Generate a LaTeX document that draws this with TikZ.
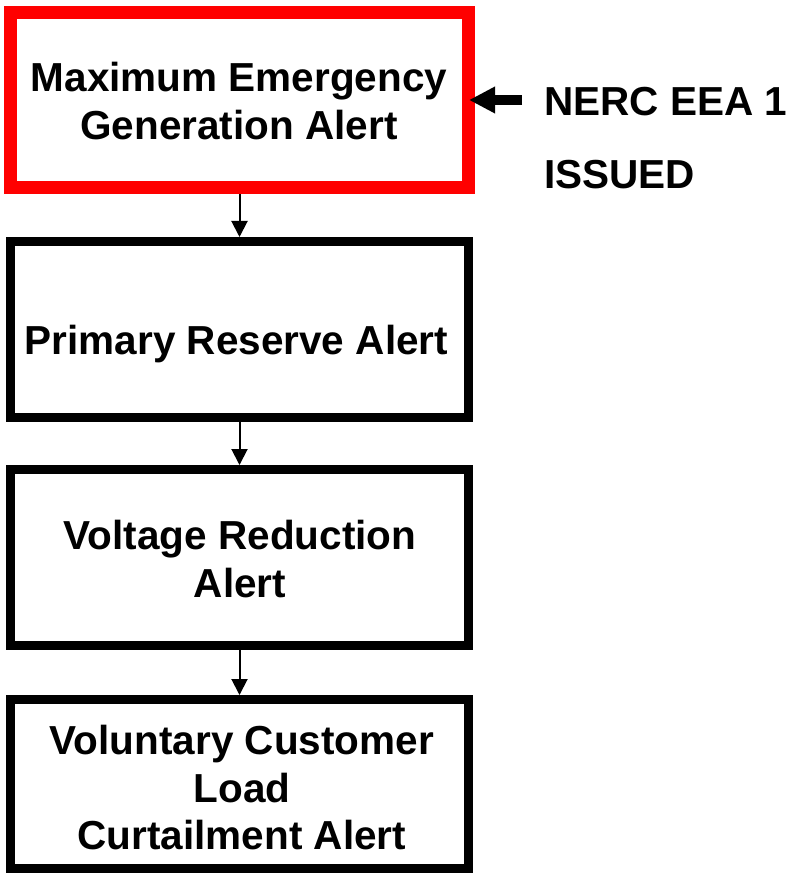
\documentclass[tikz,border=0pt]{standalone}
\usepackage{fontspec}
\setmainfont{Liberation Sans}
\usetikzlibrary{arrows.meta}

\tikzset{
  alertbox/.style={draw=black,line width=9pt,minimum width=458pt,minimum height=176pt,inner sep=0},
  alerttext/.style={inner sep=0,align=center,font=\fontsize{40.5}{47.5}\selectfont\bfseries},
  flow/.style={line width=2pt,-{Triangle[length=16pt,width=16pt]}}
}

\begin{document}
\begin{tikzpicture}[x=1pt,y=1pt]
    \useasboundingbox (0,0) rectangle (790,-874);
    \node[alertbox,draw=red,line width=13pt,minimum height=175pt] (maxgen) at (239.5,-100.5) {};
    \node[alertbox] (primary) at (239.5,-329.5) {};
    \node[alertbox] (voltage) at (239.5,-557.5) {};
    \node[alertbox,minimum height=168.5pt] (voluntary) at (239.5,-783.75) {};
    \node[alerttext,anchor=north] (maxgen_text) at (239,-62) {Maximum Emergency\\Generation Alert};
    \node[alerttext,anchor=north] (primary_text) at (236.5,-325) {Primary Reserve Alert};
    \node[alerttext,anchor=north] (voltage_text) at (240,-520) {Voltage Reduction\\Alert};
    \node[alerttext,anchor=north] (voluntary_text) at (242,-725) {Voluntary Customer\\Load\\Curtailment Alert};
    \node[alerttext,anchor=north west] (eea_text) at (544,-87) {NERC EEA 1};
    \node[alerttext,anchor=north west] (issued_text) at (544,-160) {ISSUED};
    \coordinate (eea_tail) at (522,-100);
    \draw[flow] (maxgen) -- (primary);
    \draw[flow] (primary) -- (voltage);
    \draw[flow] (voltage) -- (voluntary);
    \draw[line width=10pt,-{Triangle[length=26pt,width=25pt]},shorten >=-6pt] (eea_tail) -- (maxgen.east |- eea_tail);
\end{tikzpicture}
\end{document}
